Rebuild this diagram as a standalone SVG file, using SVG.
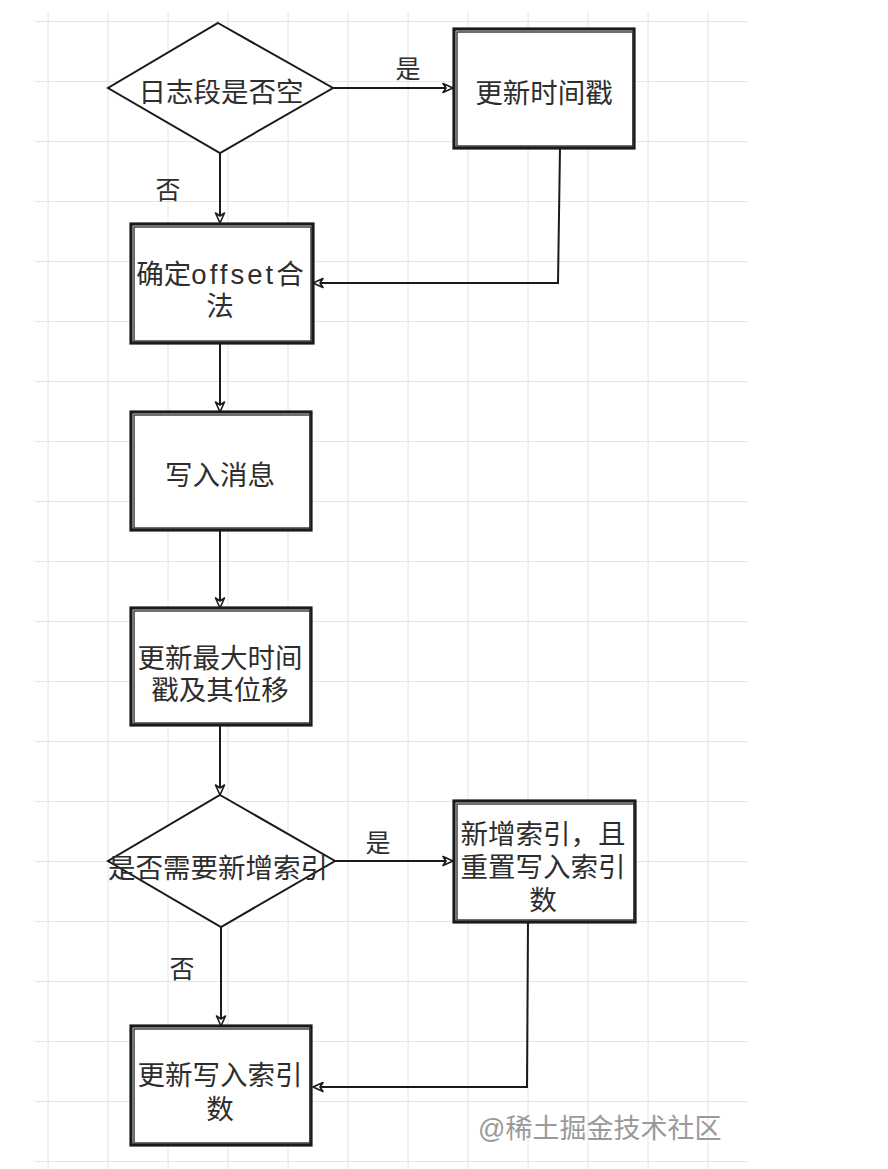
<svg xmlns="http://www.w3.org/2000/svg" width="888" height="1169" viewBox="0 0 888 1169">
<style>
.grid line{stroke:#e4e4e4;stroke-width:1}
.box{fill:#fff;stroke:#1a1a1a;stroke-width:3.2}
.box2{fill:none;stroke:#333;stroke-width:1.4}
.dia{fill:#fff;stroke:#1a1a1a;stroke-width:2}
.t{font-family:"Liberation Sans","Noto Sans CJK SC",sans-serif;font-size:27.5px;fill:#2e2e2e;text-anchor:middle;dominant-baseline:central}
.lbl{font-family:"Liberation Sans","Noto Sans CJK SC",sans-serif;font-size:25px;fill:#2e2e2e;text-anchor:middle;dominant-baseline:central}
.wm{font-family:"Liberation Sans","Noto Sans CJK SC",sans-serif;font-size:27px;fill:#9a9a9a;dominant-baseline:central}
.c{fill:none;stroke:#1a1a1a;stroke-width:2;marker-end:url(#ah)}
</style>
<defs>
<marker id="ah" viewBox="0 0 12 12" refX="11" refY="6" markerWidth="12" markerHeight="12" markerUnits="userSpaceOnUse" orient="auto">
<path d="M1,1.5 L11,6 L1,10.5 L4,6 Z" fill="#fff" stroke="#1a1a1a" stroke-width="1.6" stroke-linejoin="round"/>
</marker>
</defs>
<rect width="888" height="1169" fill="#fff"/>
<g class="grid">
<line x1="48" y1="12" x2="48" y2="1169"/><line x1="108" y1="12" x2="108" y2="1169"/><line x1="168" y1="12" x2="168" y2="1169"/><line x1="228" y1="12" x2="228" y2="1169"/><line x1="288" y1="12" x2="288" y2="1169"/><line x1="348" y1="12" x2="348" y2="1169"/><line x1="408" y1="12" x2="408" y2="1169"/><line x1="468" y1="12" x2="468" y2="1169"/><line x1="528" y1="12" x2="528" y2="1169"/><line x1="588" y1="12" x2="588" y2="1169"/><line x1="648" y1="12" x2="648" y2="1169"/><line x1="708" y1="12" x2="708" y2="1169"/>
<line x1="35" y1="21.5" x2="747" y2="21.5"/><line x1="35" y1="81.5" x2="747" y2="81.5"/><line x1="35" y1="141.5" x2="747" y2="141.5"/><line x1="35" y1="201.5" x2="747" y2="201.5"/><line x1="35" y1="261.5" x2="747" y2="261.5"/><line x1="35" y1="321.5" x2="747" y2="321.5"/><line x1="35" y1="381.5" x2="747" y2="381.5"/><line x1="35" y1="441.5" x2="747" y2="441.5"/><line x1="35" y1="501.5" x2="747" y2="501.5"/><line x1="35" y1="561.5" x2="747" y2="561.5"/><line x1="35" y1="621.5" x2="747" y2="621.5"/><line x1="35" y1="681.5" x2="747" y2="681.5"/><line x1="35" y1="741.5" x2="747" y2="741.5"/><line x1="35" y1="801.5" x2="747" y2="801.5"/><line x1="35" y1="861.5" x2="747" y2="861.5"/><line x1="35" y1="921.5" x2="747" y2="921.5"/><line x1="35" y1="981.5" x2="747" y2="981.5"/><line x1="35" y1="1041.5" x2="747" y2="1041.5"/><line x1="35" y1="1101.5" x2="747" y2="1101.5"/><line x1="35" y1="1161.5" x2="747" y2="1161.5"/>
</g>
<g id="connectors">
<path class="c" d="M333,88 L453,88"/>
<path class="c" d="M220,153 L220,223"/>
<path class="c" d="M560,148 L558,283 L313,283"/>
<path class="c" d="M220,343 L220,412"/>
<path class="c" d="M220,530 L220,608"/>
<path class="c" d="M220,725 L220,795"/>
<path class="c" d="M335,861 L453,861"/>
<path class="c" d="M221,927 L221,1026"/>
<path class="c" d="M528,922 L527,1087 L313,1087"/>
<text class="lbl" x="408" y="69">是</text>
<text class="lbl" x="168" y="190">否</text>
<text class="lbl" x="378" y="843">是</text>
<text class="lbl" x="182" y="969">否</text>
</g>
<g id="n1">
<polygon class="dia" points="218,23 333,88 220,153 108,88"/>
<text class="t" x="221" y="92">日志段是否空</text>
</g>
<g id="n2">
<rect class="box" x="454" y="29" width="180" height="119"/>
<rect class="box2" x="457" y="32" width="176" height="114"/>
<text class="t" x="544" y="93">更新时间戳</text>
</g>
<g id="n3">
<rect class="box" x="131" y="224" width="182" height="119"/>
<rect class="box2" x="134" y="227" width="177" height="114"/>
<text class="t" font-size="27"><tspan x="220" y="274">确定<tspan letter-spacing="3">offset</tspan>合</tspan><tspan x="220" y="306">法</tspan></text>
</g>
<g id="n4">
<rect class="box" x="131" y="412" width="180" height="118"/>
<rect class="box2" x="134" y="415" width="176" height="113"/>
<text class="t" x="220" y="475">写入消息</text>
</g>
<g id="n5">
<rect class="box" x="131" y="608" width="180" height="117"/>
<rect class="box2" x="134" y="611" width="176" height="112"/>
<text class="t"><tspan x="220" y="658">更新最大时间</tspan><tspan x="220" y="690">戳及其位移</tspan></text>
</g>
<g id="n6">
<polygon class="dia" points="220,795 335,861 221,927 108,861"/>
<text class="t" x="218" y="868" font-size="29">是否需要新增索引</text>
</g>
<g id="n7">
<rect class="box" x="454" y="801" width="181" height="121"/>
<rect class="box2" x="457" y="804" width="177" height="116"/>
<text class="t"><tspan x="543" y="834">新增索引，且</tspan><tspan x="543" y="867">重置写入索引</tspan><tspan x="543" y="900">数</tspan></text>
</g>
<g id="n8">
<rect class="box" x="131" y="1026" width="180" height="119"/>
<rect class="box2" x="134" y="1029" width="176" height="114"/>
<text class="t"><tspan x="220" y="1075">更新写入索引</tspan><tspan x="220" y="1109">数</tspan></text>
</g>
<text class="wm" x="478" y="1129">@稀土掘金技术社区</text>
</svg>
